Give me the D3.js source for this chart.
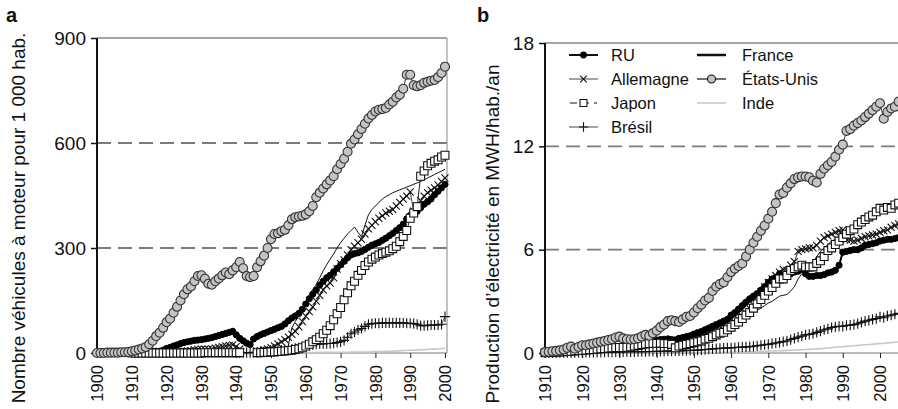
<!DOCTYPE html>
<html><head><meta charset="utf-8">
<script src="https://cdn.jsdelivr.net/npm/d3@7"></script>
<style>
body{margin:0;background:#fff}
text{font-family:"Liberation Sans",Arial,Helvetica,sans-serif;fill:#111}
</style>
</head><body>
<svg id="chart" width="898" height="409"></svg>
<script>
// ---------- Panel a : vehicles per 1000 inhabitants (1900-2000) ----------
const startA = 1900;
const carsUS = [0,0,0,1,1,1,1,2,2,3,
 5,7,10,13,17,25,35,48,58,72,
 88,98,115,132,150,168,182,190,205,220,
 222,212,198,195,205,213,222,230,225,236,
 245,260,242,220,217,220,245,262,278,300,
 325,340,342,348,352,365,382,388,390,392,
 396,405,420,445,458,470,482,493,505,525,
 540,555,575,598,610,625,640,655,670,680,
 690,695,697,700,710,718,730,738,755,795,
 795,765,762,765,772,775,778,780,788,800,818];
const carsRU = [null,null,null,null,0,1,1,2,2,2,
 3,3,4,5,6,6,5,5,5,8,
 13,16,20,23,27,30,32,34,36,37,
 38,40,42,44,47,50,53,56,59,62,
 52,42,35,28,24,40,47,52,56,60,
 64,68,72,76,83,92,100,106,113,125,
 140,155,168,180,194,205,215,222,232,242,
 252,262,272,280,284,286,290,296,302,308,
 312,316,322,328,335,342,350,358,368,383,
 393,398,405,415,425,432,440,452,462,472,482];
const carsDE = [null,null,null,null,null,null,null,null,null,null,
 1,1,1,1,1,1,1,1,1,1,
 2,2,3,3,4,5,6,7,9,10,
 11,11,11,12,14,16,18,20,22,23,
 18,12,null,null,null,null,5,7,9,12,
 15,20,26,32,38,45,53,62,75,90,
 105,118,132,148,165,180,192,200,215,240,
 255,266,280,295,305,315,325,340,355,365,
 375,385,392,400,405,410,420,430,440,448,
 460,405,420,435,448,458,465,472,480,490,500];
const carsJP = [null,null,null,null,null,null,null,null,null,null,
 0,0,0,0,0,0,0,0,0,0,
 0,0,0,0,0,0,0,0,0,0,
 0,1,1,1,1,1,1,1,1,1,
 1,1,null,null,null,null,1,1,2,2,
 3,3,4,5,6,7,8,10,12,15,
 20,25,32,38,45,55,65,78,95,112,
 130,152,172,192,205,222,236,250,260,268,
 274,280,284,288,292,298,305,318,333,350,
 385,400,418,505,520,535,542,548,552,560,565];
const carsBR = [null,null,null,null,null,null,null,null,null,null,
 null,null,null,null,null,null,null,null,null,null,
 null,null,null,null,null,null,null,null,null,null,
 null,null,null,null,null,null,null,null,null,null,
 1,1,1,1,1,2,2,3,3,4,
 5,6,7,8,9,10,11,13,15,17,
 20,22,24,25,26,26,27,27,28,30,
 32,36,45,55,60,66,70,76,82,84,
 85,85,86,86,86,86,86,86,86,85,
 85,84,82,78,78,79,80,80,80,82,104];
const carsFRStart = 1955;
const carsFR = [22,72,90,108,125,
 145,165,182,195,215,235,252,268,283,300,
 315,328,340,350,360,345,332,365,395,410,
 420,430,440,447,452,458,462,466,470,474,
 478,482,486,490,495,500,505,510,515,520,525];
const carsINStart = 1950;
const carsIN = [1,1,1,1,1,1,1,1,1,1,
 1,1,1,1,2,2,2,2,2,2,
 2,2,2,3,3,3,3,3,3,4,
 4,4,4,5,5,5,6,6,7,7,
 8,8,9,9,10,10,11,11,12,13,14];

// ---------- Panel b : electricity MWh per inhabitant (1910-2005) ----------
const startB = 1910;
const elecUS = [0.05,0.07,0.1,0.12,0.15,0.2,0.3,0.37,0.25,0.35,
 0.45,0.45,0.5,0.55,0.6,0.65,0.7,0.75,0.8,0.9,
 0.95,0.85,0.8,0.78,0.8,0.85,0.95,1.05,1.0,1.15,
 1.3,1.5,1.65,1.85,1.9,1.85,1.8,1.95,2.1,2.15,
 2.35,2.6,2.8,3.05,3.2,3.6,3.85,4.0,4.1,4.4,
 4.7,4.9,5.05,5.2,5.6,6.0,6.4,6.75,7.1,7.4,
 7.8,8.2,8.7,9.2,9.3,9.6,9.85,10.1,10.2,10.25,
 10.25,10.2,10.0,9.9,10.4,10.7,10.9,11.1,11.4,11.8,
 12.1,12.9,13.0,13.2,13.35,13.5,13.7,13.9,14.1,14.3,
 14.5,13.6,14.0,14.2,14.3,14.6];
const elecJP = [0.02,0.03,0.04,0.05,0.06,0.07,0.08,0.1,0.12,0.14,
 0.16,0.17,0.19,0.2,0.22,0.24,0.26,0.28,0.3,0.31,
 0.32,0.32,0.33,0.36,0.4,0.44,0.48,0.52,0.55,0.56,
 0.56,0.57,0.55,0.55,0.5,0.3,0.4,0.45,0.5,0.55,
 0.6,0.65,0.7,0.8,0.85,0.95,1.05,1.15,1.2,1.35,
 1.5,1.65,1.8,2.0,2.2,2.35,2.6,2.85,3.1,3.35,
 3.6,3.8,4.05,4.3,4.3,4.5,4.8,4.9,5.0,5.1,
 5.0,5.0,5.0,5.2,5.35,5.6,5.95,6.1,6.3,6.5,
 6.7,6.9,7.1,7.2,7.45,7.6,7.75,7.9,8.0,8.2,
 8.4,8.3,8.45,8.4,8.6,8.7];
const elecRU = [0.03,0.04,0.05,0.06,0.07,0.08,0.09,0.1,0.11,0.12,
 0.15,0.14,0.16,0.18,0.2,0.22,0.24,0.27,0.3,0.35,
 0.38,0.4,0.43,0.47,0.52,0.57,0.62,0.67,0.7,0.72,
 0.75,0.78,0.8,0.82,0.78,0.76,0.85,0.9,0.95,1.0,
 1.1,1.18,1.25,1.35,1.45,1.55,1.65,1.75,1.85,1.95,
 2.2,2.35,2.55,2.75,2.95,3.15,3.3,3.45,3.65,3.85,
 4.1,4.3,4.4,4.6,4.5,4.55,4.6,4.7,4.75,4.85,
 4.6,4.45,4.45,4.5,4.5,4.55,4.65,4.7,4.8,5.1,
 5.85,5.9,5.95,6.0,6.0,6.1,6.25,6.3,6.35,6.4,
 6.5,6.55,6.6,6.6,6.65,6.7];
const elecDE = [null,null,null,null,null,null,null,null,null,null,
 null,null,null,null,null,0.2,0.22,0.26,0.3,0.33,
 0.35,0.33,0.3,0.33,0.38,0.45,0.5,0.55,0.6,0.62,
 0.65,0.7,0.72,0.72,0.7,0.3,0.35,0.4,0.5,0.6,
 0.8,0.9,1.0,1.1,1.2,1.35,1.45,1.55,1.65,1.8,
 2.0,2.15,2.35,2.55,2.8,3.0,3.15,3.3,3.55,3.85,
 4.1,4.3,4.5,4.7,4.85,4.8,5.1,5.3,5.9,6.0,
 6.05,6.1,6.1,6.25,6.5,6.7,6.8,6.9,7.0,7.1,
 7.15,6.6,6.55,6.5,6.55,6.65,6.75,6.8,6.85,6.9,
 7.0,7.1,7.15,7.3,7.4,7.5];
const elecFR = [0.02,0.03,0.03,0.04,0.04,0.05,0.05,0.06,0.06,0.07,
 0.08,0.09,0.1,0.12,0.14,0.16,0.18,0.2,0.22,0.24,
 0.26,0.27,0.28,0.3,0.32,0.33,0.34,0.35,0.36,0.38,
 0.4,0.38,0.36,0.34,0.3,0.35,0.45,0.5,0.6,0.65,
 0.75,0.82,0.9,0.95,1.0,1.1,1.2,1.3,1.35,1.45,
 1.6,1.7,1.8,1.95,2.1,2.2,2.35,2.5,2.6,2.75,
 2.9,3.0,3.15,3.3,3.35,3.4,3.6,3.85,4.3,4.6,
 4.8,5.1,5.3,5.6,5.9,6.1,6.3,6.5,6.6,6.8,
 6.9,7.2,7.35,7.4,7.5,7.6,7.75,7.8,7.9,8.0,
 8.1,8.2,8.3,8.4,8.5,8.55];
const elecBR = [0.01,0.01,0.01,0.01,0.02,0.02,0.02,0.02,0.02,0.03,
 0.03,0.03,0.03,0.04,0.04,0.04,0.05,0.05,0.05,0.06,
 0.06,0.06,0.07,0.07,0.07,0.08,0.08,0.08,0.09,0.09,
 0.1,0.1,0.1,0.11,0.11,0.12,0.12,0.13,0.14,0.15,
 0.15,0.17,0.18,0.2,0.22,0.24,0.25,0.27,0.28,0.3,
 0.3,0.32,0.33,0.34,0.35,0.37,0.39,0.42,0.45,0.48,
 0.5,0.54,0.58,0.62,0.66,0.7,0.78,0.85,0.92,0.98,
 1.05,1.08,1.12,1.2,1.27,1.35,1.4,1.48,1.52,1.55,
 1.55,1.6,1.62,1.65,1.7,1.78,1.85,1.9,1.95,2.0,
 2.1,2.05,2.15,2.2,2.25,2.3];
const elecINStart = 1950;
const elecIN = [0.01,0.01,0.01,0.01,0.02,0.02,0.02,0.02,0.03,0.03,
 0.04,0.04,0.05,0.05,0.06,0.07,0.07,0.08,0.09,0.1,
 0.11,0.12,0.12,0.13,0.14,0.15,0.16,0.17,0.18,0.19,
 0.2,0.21,0.22,0.24,0.25,0.27,0.29,0.31,0.33,0.35,
 0.37,0.39,0.41,0.42,0.44,0.46,0.48,0.49,0.51,0.53,
 0.55,0.56,0.58,0.6,0.62,0.64];

// ---------- ticks & labels ----------
const ticksAx = [1900,1910,1920,1930,1940,1950,1960,1970,1980,1990,2000];
const ticksAy = [0,300,600,900];
const gridA = [300,600];
const ticksBx = [1910,1920,1930,1940,1950,1960,1970,1980,1990,2000];
const ticksBy = [0,6,12,18];
const gridB = [6,12];
const titleA = "Nombre véhicules à moteur pour 1 000 hab.";
const titleB = "Production d\u2019électricité en MWH/hab./an";
const legendNames = ["RU","Allemagne","Japon","Brésil","France","États-Unis","Inde"];

// ---------- drawing ----------
const svg = d3.select("#chart");
const pts = (start, vals) => vals.map((v,i)=>({year:start+i, v}));

const styles = {
  IN:{line:"#c8c8c8", w:1.6},
  BR:{line:"#555", w:1, sym:d3.symbolPlus, size:36, stroke:"#111", sw:1.1},
  DE:{line:"#444", w:1, sym:d3.symbolX, size:34, stroke:"#111", sw:1.1},
  RU:{line:"#000", w:2, sym:d3.symbolCircle, size:30, fill:"#000", stroke:"#000", sw:1},
  FR:{line:"#111", w:1},
  JP:{line:"#222", w:1, sym:d3.symbolSquare, size:62, fill:"#fff", stroke:"#111", sw:1.1},
  US:{line:"#333", w:1, sym:d3.symbolCircle, size:64, fill:"#c4c4c4", stroke:"#333", sw:1.1}
};

function panel(o){
  const g = svg.append("g");
  const x = d3.scaleLinear().domain(o.xd).range(o.xr);
  const y = d3.scaleLinear().domain(o.yd).range(o.yr);
  g.selectAll(".grid").data(o.grid).join("line")
    .attr("x1",o.xr[0]).attr("x2",o.frameRight)
    .attr("y1",d=>y(d)).attr("y2",d=>y(d))
    .attr("stroke","#7a7a7a").attr("stroke-width",1.8).attr("stroke-dasharray","14,7");
  g.append("line").attr("x1",o.xr[0]).attr("x2",o.frameRight)
    .attr("y1",y(o.yd[1])).attr("y2",y(o.yd[1])).attr("stroke","#888").attr("stroke-width",1.5);
  g.append("line").attr("x1",o.frameRight).attr("x2",o.frameRight)
    .attr("y1",y(o.yd[1])).attr("y2",y(0)).attr("stroke","#999").attr("stroke-width",1.2);
  const xa = g.append("g").attr("transform",`translate(0,${y(0)})`)
    .call(d3.axisBottom(x).tickValues(o.xticks).tickSize(5).tickFormat(d3.format("d")));
  xa.select(".domain").attr("stroke","#777").attr("stroke-width",1.2).attr("d",`M${o.xr[0]},0H${o.frameRight}`);
  xa.selectAll(".tick line").attr("stroke","#222");
  xa.selectAll(".tick text").attr("transform","rotate(-90)")
    .attr("x",-12).attr("y",0).attr("dy","0.35em").attr("text-anchor","end")
    .style("font-size","16.5px").style("font-family","'Liberation Sans',Arial,sans-serif").attr("fill","#111");
  const ya = g.append("g").attr("transform",`translate(${o.xr[0]},0)`)
    .call(d3.axisLeft(y).tickValues(o.yticks).tickSize(6).tickFormat(d3.format("d")));
  ya.select(".domain").attr("stroke","#111").attr("stroke-width",2).attr("d",`M0,${y(o.yd[1])}V${y(0)}`);
  ya.selectAll(".tick line").attr("stroke","#111").attr("stroke-width",1.5);
  ya.selectAll(".tick text").attr("x",-11).style("font-size","19px")
    .style("font-family","'Liberation Sans',Arial,sans-serif").attr("fill","#111");

  const line = d3.line().defined(d=>d.v!=null).x(d=>x(d.year)).y(d=>y(d.v));
  o.series.forEach(s=>{
    const st = styles[s.key];
    const data = s.data;
    g.append("path").datum(data).attr("d",line).attr("fill","none")
      .attr("stroke",st.line).attr("stroke-width",st.w).attr("stroke-linejoin","round");
    if(st.sym){
      const sym = d3.symbol().type(st.sym).size(st.size);
      g.selectAll(null).data(data.filter(d=>d.v!=null)).join("path")
        .attr("transform",d=>`translate(${x(d.year)},${y(d.v)})`)
        .attr("d",sym).attr("fill",st.fill||"none").attr("stroke",st.stroke).attr("stroke-width",st.sw);
    }
  });
  g.append("text").attr("transform",`translate(${o.titleX},${o.titleY}) rotate(-90)`)
    .attr("text-anchor","middle").style("font-size","19px").text(o.title);
  g.append("text").attr("x",o.letterX).attr("y",22).style("font-size","20px")
    .style("font-weight","bold").text(o.letter);
  return g;
}

panel({
  xd:[1900,2000], xr:[97,445], frameRight:447,
  yd:[0,900], yr:[353,38],
  grid:gridA, xticks:ticksAx, yticks:ticksAy,
  title:titleA, titleX:25, titleY:218, letter:"a", letterX:6,
  series:[
    {key:"IN", data:pts(carsINStart,carsIN)},
    {key:"BR", data:pts(startA,carsBR)},
    {key:"DE", data:pts(startA,carsDE)},
    {key:"RU", data:pts(startA,carsRU)},
    {key:"FR", data:pts(carsFRStart,carsFR)},
    {key:"JP", data:pts(startA,carsJP)},
    {key:"US", data:pts(startA,carsUS)}
  ]
});

panel({
  xd:[1910,2000], xr:[545,880], frameRight:905,
  yd:[0,18], yr:[353,43],
  grid:gridB, xticks:ticksBx, yticks:ticksBy,
  title:titleB, titleX:499, titleY:234, letter:"b", letterX:477,
  series:[
    {key:"IN", data:pts(elecINStart,elecIN)},
    {key:"BR", data:pts(startB,elecBR)},
    {key:"DE", data:pts(startB,elecDE)},
    {key:"RU", data:pts(startB,elecRU)},
    {key:"FR", data:pts(startB,elecFR)},
    {key:"JP", data:pts(startB,elecJP)},
    {key:"US", data:pts(startB,elecUS)}
  ]
});

// legend
const legKeys = ["RU","DE","JP","BR","FR","US","IN"];
const leg = svg.append("g");
legKeys.forEach((k,i)=>{
  const col = i<4?0:1, row = i<4?i:i-4;
  const sx = col===0?569:697, tx = col===0?611:742;
  const cy = 55 + row*24;
  const st = styles[k];
  const l = leg.append("line").attr("x1",sx).attr("x2",sx+29).attr("y1",cy).attr("y2",cy)
    .attr("stroke",k==="IN"?"#c8c8c8":(k==="BR"||k==="DE")?"#666":"#111")
    .attr("stroke-width",k==="RU"?2:k==="FR"?2.5:k==="IN"?1.6:1.2);
  if(k==="JP") l.attr("stroke-dasharray","7,5").attr("x1",sx+1).attr("x2",sx+28);
  if(st.sym){
    leg.append("path").attr("transform",`translate(${sx+14.5},${cy})`)
      .attr("d",d3.symbol().type(st.sym).size(k==="RU"?26:k==="US"?50:k==="JP"?48:30))
      .attr("fill",k==="RU"?"#000":k==="US"?"#c4c4c4":k==="JP"?"#fff":"none")
      .attr("stroke","#111").attr("stroke-width",1.1);
  }
  leg.append("text").attr("x",tx).attr("y",cy).attr("dy","0.35em")
    .style("font-size","16.5px").text(legendNames[i]);
});
</script>
</body></html>
